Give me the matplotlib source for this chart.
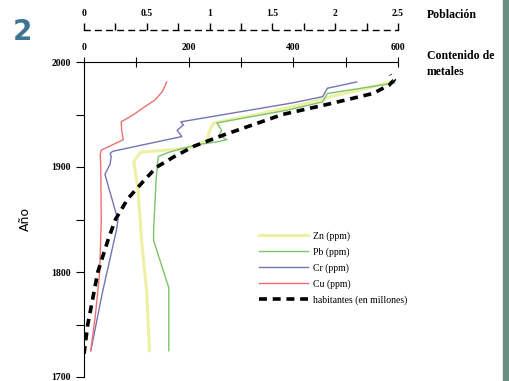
import numpy as np
import matplotlib.pyplot as plt
from matplotlib.patches import Rectangle

# datos (año, ppm)
zn_anio = [1725, 1780, 1830, 1880, 1905, 1914, 1918, 1925, 1935, 1942, 1950, 1960, 1968, 1975, 1981]
zn_ppm = [125, 120, 110, 103, 95, 108, 200, 235, 240, 248, 330, 420, 480, 540, 585]

pb_anio = [1725, 1785, 1830, 1840, 1890, 1910, 1914, 1921, 1924, 1926, 1930, 1935, 1942, 1954, 1962, 1970, 1980]
pb_ppm = [162, 162, 133, 133, 138, 142, 162, 213, 255, 273, 258, 263, 254, 387, 456, 465, 594]

cr_anio = [1725, 1780, 1840, 1850, 1858, 1893, 1903, 1910, 1913, 1915, 1929, 1935, 1940, 1943, 1961, 1967, 1975, 1981]
cr_ppm = [13, 35, 62, 65, 60, 40, 50, 52, 50, 55, 187, 178, 190, 185, 398, 456, 465, 521]

cu_anio = [1725, 1760, 1800, 1850, 1900, 1912, 1916, 1926, 1935, 1943, 1950, 1957, 1964, 1972, 1981]
cu_ppm = [13, 22, 30, 33, 32, 31, 33, 75, 72, 71, 95, 115, 136, 150, 158]

pob_anio = [1722, 1750, 1800, 1830, 1850, 1870, 1890, 1900, 1910, 1920, 1930, 1950, 1960, 1970, 1978, 1983, 1988]
pob_mill = [0.0, 0.03, 0.11, 0.19, 0.25, 0.35, 0.5, 0.58, 0.72, 0.88, 1.1, 1.58, 1.95, 2.3, 2.43, 2.47, 2.44]

serif = "Liberation Serif"

fig = plt.figure(figsize=(5.1, 3.81), dpi=100)
ax = fig.add_axes([84/510, 1-377/381, (398-84)/510, (377-62)/381])

# eje de poblacion arriba (se crea antes para que no mueva los ticks de ax)
ax2 = ax.twiny()

# metales (escala 0-600)
ax.plot(zn_ppm, zn_anio, color="#eef0a6", lw=2.2, label="Zn (ppm)")
ax.plot(pb_ppm, pb_anio, color="#7cc46a", lw=1.0, label="Pb (ppm)")
ax.plot(cr_ppm, cr_anio, color="#7474b4", lw=1.0, label="Cr (ppm)")
ax.plot(cu_ppm, cu_anio, color="#ee7070", lw=1.0, label="Cu (ppm)")
# poblacion en la escala de 0-2.5 -> 0-600
ax.plot(np.array(pob_mill) * 240, pob_anio, color="black", lw=2.6,
        ls=(0, (2.2, 1.6)), label="habitantes (en millones)")

ax.set_xlim(0, 600)
ax.set_ylim(1700, 2000)
ax.spines["right"].set_visible(False)
ax.spines["bottom"].set_visible(False)
ax.xaxis.set_ticks_position("top")
ax.xaxis.set_label_position("top")
ax.set_xticks([0, 200, 400, 600])
ax.set_xticks([100, 300, 500], minor=True)
ax.set_yticks([1700, 1800, 1900, 2000])
ax.set_yticks([1750, 1850, 1950], minor=True)
ax.tick_params(axis="x", which="both", direction="inout", length=7, width=0.8, pad=4,
               top=True, bottom=False, labeltop=True, labelbottom=False)
ax.tick_params(axis="y", which="both", direction="out", length=6, width=0.8)
for lab in ax.get_xticklabels() + ax.get_yticklabels():
    lab.set_fontfamily(serif)
    lab.set_fontweight("bold")
    lab.set_fontsize(7)
ax.set_ylabel("Año", fontsize=9, labelpad=14)

ax2.set_xlim(0, 2.5)
ax2.spines["top"].set_position(("outward", 23))
ax2.spines["top"].set_linestyle((0, (4, 4)))
ax2.spines["top"].set_linewidth(1.0)
for s in ["left", "right", "bottom"]:
    ax2.spines[s].set_visible(False)
ax2.set_xticks([0, 0.5, 1, 1.5, 2, 2.5])
ax2.set_xticklabels(["0", "0.5", "1", "1.5", "2", "2.5"])
ax2.set_xticks(np.arange(0.25, 2.5, 0.5), minor=True)
ax2.tick_params(axis="x", which="both", direction="out", length=5, width=1.0, pad=4)
for lab in ax2.get_xticklabels():
    lab.set_fontfamily(serif)
    lab.set_fontweight("bold")
    lab.set_fontsize(7)

leg = ax.legend(loc="upper left", bbox_to_anchor=(0.53, 0.49), frameon=False,
                prop={"family": serif, "size": 7}, handlelength=5.0,
                labelspacing=0.65, handletextpad=0.5)

fig.text(427/510, 1-15/381, "Población", ha="left", va="center",
         family=serif, weight="bold", fontsize=8.5)
fig.text(427/510, 1-64/381, "Contenido de\nmetales", ha="left", va="center",
         family=serif, weight="bold", fontsize=8.5, linespacing=1.4)
fig.text(22/510, 1-32/381, "2", ha="center", va="center", fontsize=20,
         weight="bold", color="#3f7590")
fig.patches.append(Rectangle((503/510, 0), 7/510, 1, transform=fig.transFigure,
                             color="#6e8c82", zorder=0))

fig.savefig("out.png", dpi=100)
